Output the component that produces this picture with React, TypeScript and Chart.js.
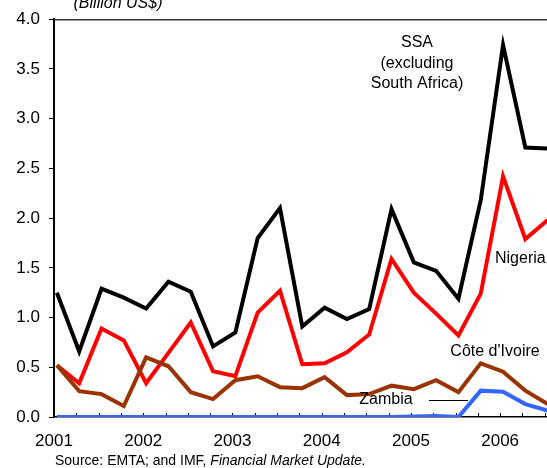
import React, { useEffect, useRef } from "react";
import { Chart, registerables } from "chart.js";

Chart.register(...registerables);

// Quarterly observations, 2001Q1 .. 2006Q3 (+ one clipped at the right edge)
const startYear = 2001;
const ssa = [1.25, 0.66, 1.29, 1.2, 1.09, 1.36, 1.26, 0.71, 0.85, 1.8, 2.1, 0.91, 1.1, 0.985, 1.085, 2.09, 1.555, 1.47, 1.19, 2.18, 3.74, 2.71, 2.7];
const nigeria = [0.52, 0.34, 0.89, 0.77, 0.34, 0.645, 0.95, 0.46, 0.41, 1.05, 1.27, 0.53, 0.54, 0.65, 0.83, 1.59, 1.25, 1.04, 0.82, 1.24, 2.42, 1.79, 1.98];
const coteDIvoire = [0.52, 0.26, 0.23, 0.11, 0.6, 0.51, 0.25, 0.18, 0.37, 0.41, 0.3, 0.29, 0.4, 0.22, 0.23, 0.315, 0.28, 0.37, 0.25, 0.54, 0.455, 0.265, 0.13];
const zambia = [0, 0, 0, 0, 0, 0, 0, 0, 0, 0, 0, 0, 0, 0, 0, 0, 0.005, 0.01, 0, 0.265, 0.255, 0.13, 0.065];
const yTicks = [0, 0.5, 1, 1.5, 2, 2.5, 3, 3.5, 4];
const yearLabels = ["2001", "2002", "2003", "2004", "2005", "2006"];

const FONT = "'Liberation Sans', Arial, sans-serif";

function toPoints(values: number[]) {
  return values.map((v, i) => ({ x: startYear + (i + 0.13) / 4, y: v }));
}

const annotationPlugin = {
  id: "annotations",
  beforeDatasetsDraw(chart: any) {
    const { ctx, chartArea, scales } = chart;
    const x = scales.x;
    ctx.save();
    // top border
    ctx.strokeStyle = "#333333";
    ctx.lineWidth = 1.5;
    ctx.beginPath();
    ctx.moveTo(chartArea.left, chartArea.top + 0.5);
    ctx.lineTo(chartArea.right, chartArea.top + 0.5);
    ctx.stroke();
    // inward quarter ticks on the x axis
    ctx.strokeStyle = "#000";
    ctx.lineWidth = 1;
    for (let q = 0; q <= 24; q++) {
      const px = Math.round(x.getPixelForValue(startYear + q / 4)) + 0.5;
      if (px > chartArea.right) break;
      ctx.beginPath();
      ctx.moveTo(px, chartArea.bottom);
      ctx.lineTo(px, chartArea.bottom - 4);
      ctx.stroke();
    }
    ctx.restore();
  },
  afterDraw(chart: any) {
    const { ctx } = chart;
    ctx.save();
    ctx.fillStyle = "#000";
    // clipped unit title
    ctx.font = `italic 16px ${FONT}`;
    ctx.textAlign = "center";
    ctx.textBaseline = "alphabetic";
    ctx.fillText("(Billion US$)", 118, 8);

    ctx.font = `16px ${FONT}`;
    ctx.textBaseline = "middle";
    ctx.fillText("SSA", 417, 43);
    ctx.fillText("(excluding", 417, 63.5);
    ctx.fillText("South Africa)", 417, 84);
    ctx.textAlign = "left";
    ctx.fillText("Nigeria", 495, 259);
    ctx.textAlign = "center";
    ctx.fillText("Côte d'Ivoire", 495, 352);
    ctx.fillText("Zambia", 386, 400);
    // leader line for Zambia
    ctx.strokeStyle = "#000";
    ctx.lineWidth = 1;
    ctx.beginPath();
    ctx.moveTo(429, 400.5);
    ctx.lineTo(468, 400.5);
    ctx.stroke();

    // source
    ctx.textAlign = "left";
    ctx.textBaseline = "alphabetic";
    ctx.font = `14px ${FONT}`;
    const s1 = "Source: EMTA; and IMF, ";
    ctx.fillText(s1, 55, 465);
    const w = ctx.measureText(s1).width;
    ctx.font = `italic 14px ${FONT}`;
    ctx.fillText("Financial Market Update.", 55 + w, 465);
    ctx.restore();
  },
};

export default function App() {
  const canvasRef = useRef<HTMLCanvasElement | null>(null);

  useEffect(() => {
    const canvas = canvasRef.current;
    if (!canvas) return;
    const mk = (label: string, data: number[], color: string, order: number) => ({
      label,
      data: toPoints(data),
      borderColor: color,
      backgroundColor: color,
      borderWidth: 4,
      pointRadius: 0,
      tension: 0,
      fill: false,
      order,
      borderJoinStyle: "miter" as const,
    });
    const chart = new Chart(canvas, {
      type: "line",
      data: {
        datasets: [
          mk("SSA (excluding South Africa)", ssa, "#000000", 4),
          mk("Nigeria", nigeria, "#ff0000", 3),
          mk("Côte d'Ivoire", coteDIvoire, "#993300", 2),
          mk("Zambia", zambia, "#3366ff", 1),
        ],
      },
      options: {
        animation: false,
        responsive: false,
        maintainAspectRatio: false,
        layout: { padding: { top: 19, right: 0, left: 0, bottom: 0 } },
        plugins: {
          legend: { display: false },
          tooltip: { enabled: false },
          title: { display: false },
        },
        scales: {
          x: {
            type: "linear",
            min: 2001,
            max: 2006.525,
            afterBuildTicks: (scale: any) => {
              scale.ticks = yearLabels.map((l) => ({ value: Number(l) }));
            },
            afterFit: (scale: any) => {
              scale.height = 51;
            },
            ticks: {
              callback: (v: any) => String(v),
              color: "#000",
              font: { family: FONT, size: 17 },
              padding: 6,
              maxRotation: 0,
              autoSkip: false,
            },
            grid: { display: false },
            border: { display: true, color: "#000", width: 1.5 },
          },
          y: {
            min: 0,
            max: 4,
            afterBuildTicks: (scale: any) => {
              scale.ticks = yTicks.map((v) => ({ value: v }));
            },
            afterFit: (scale: any) => {
              scale.width = 54;
            },
            ticks: {
              callback: (v: any) => Number(v).toFixed(1),
              color: "#000",
              font: { family: FONT, size: 17 },
              padding: 9,
            },
            grid: {
              display: true,
              drawOnChartArea: false,
              drawTicks: true,
              tickLength: 5,
              color: "#000",
            },
            border: { display: true, color: "#000", width: 2 },
          },
        },
      },
      plugins: [annotationPlugin],
    });
    return () => chart.destroy();
  }, []);

  return (
    <div style={{ position: "fixed", left: 0, top: 0, width: 547, height: 468, background: "#fff" }}>
      <canvas ref={canvasRef} width={547} height={468} style={{ display: "block", width: 547, height: 468 }} />
    </div>
  );
}
